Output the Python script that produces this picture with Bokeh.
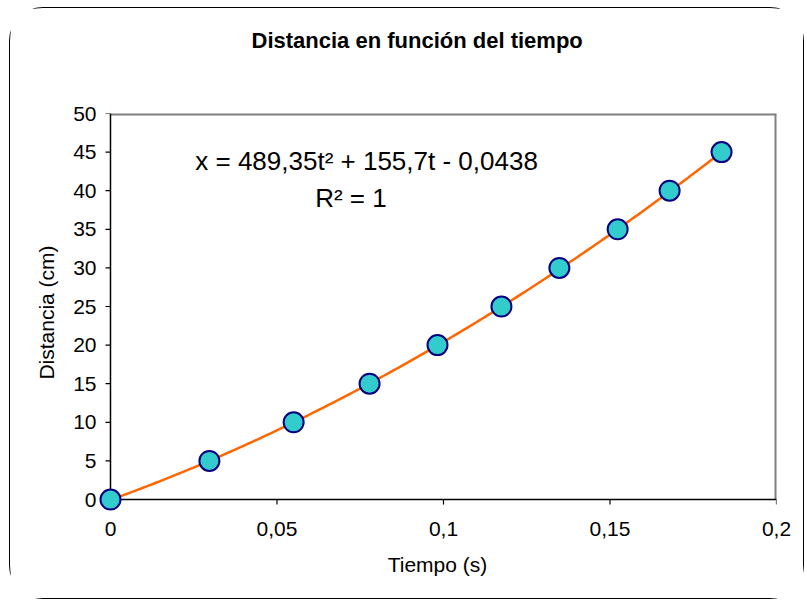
from bokeh.plotting import figure
from bokeh.models import FixedTicker, CustomJSTickFormatter, Label, ColumnDataSource, Title
from bokeh.embed import file_html
from bokeh.resources import INLINE
import numpy as np

# Data
tiempo = [0.0, 0.0297, 0.0550, 0.0778, 0.0982, 0.1174, 0.1348, 0.1523, 0.1679, 0.1835]
distancia = [0, 5, 10, 15, 20, 25, 30, 35, 40, 45]
# Trend-line coefficients (from the equation shown)
coef_a, coef_b, coef_c = 489.35, 155.7, -0.0438
x_ticks = [0, 0.05, 0.1, 0.15, 0.2]
y_ticks = [0, 5, 10, 15, 20, 25, 30, 35, 40, 45, 50]
titulo = "Distancia en función del tiempo"

FONT = "Liberation Sans"
x0, x1 = x_ticks[0], x_ticks[-1]
y0, y1 = y_ticks[0], y_ticks[-1]
xpad, ypad = 0.0036, 1.55      # room so the marker at the origin is not clipped
xtick, ytick = 0.0015, 0.65    # tick mark lengths (about 5 px)

p = figure(width=795, height=592, output_backend="svg", toolbar_location=None, title=None,
           x_range=(x0 - xpad, x1), y_range=(y0 - ypad, y1),
           min_border_left=88, min_border_right=29, min_border_top=105, min_border_bottom=89)
p.styles = {"border": "1.5px solid black", "border-radius": "34px", "box-sizing": "border-box",
            "margin-left": "9px", "margin-top": "7px"}
p.background_fill_color = "white"
p.border_fill_color = "white"
p.grid.visible = False
p.outline_line_color = None

spacer = Title(text=" ", text_font=FONT, text_font_size="22px", standoff=30)
tit = Title(text=titulo, text_font=FONT, text_font_size="22px", text_font_style="bold",
            text_color="black", align="left", offset=153, standoff=8)
p.add_layout(spacer, "above")
p.add_layout(tit, "above")

for ax in (p.xaxis[0], p.yaxis[0]):
    ax.axis_line_color = None
    ax.major_tick_line_color = None
    ax.major_tick_out = 0
    ax.major_tick_in = 0
    ax.minor_tick_line_color = None
    ax.major_label_text_font = FONT
    ax.major_label_text_font_size = "21px"
    ax.major_label_text_color = "black"
    ax.axis_label_text_font = FONT
    ax.axis_label_text_font_size = "21px"
    ax.axis_label_text_font_style = "normal"
    ax.axis_label_text_color = "black"

p.xaxis.ticker = FixedTicker(ticks=x_ticks)
p.yaxis.ticker = FixedTicker(ticks=y_ticks)
p.xaxis.formatter = CustomJSTickFormatter(code="return (Math.round(tick*100)/100).toString().replace('.', ',');")
p.xaxis.axis_label = "Tiempo (s)"
p.yaxis.axis_label = "Distancia (cm)"
p.xaxis.major_label_standoff = 10
p.xaxis.axis_label_standoff = 14
p.yaxis.major_label_standoff = 2
p.yaxis.axis_label_standoff = 12

# grey plot-area border (top and right sides)
p.segment(x0=[x0, x1], y0=[y1, y0], x1=[x1, x1], y1=[y1, y1], line_color="#808080", line_width=4)
# black axis lines at x=0 and y=0
p.segment(x0=[x0, x0], y0=[y0, y0], x1=[x0, x1], y1=[y1, y0], line_color="black", line_width=1.5)
# tick marks (outside)
p.segment(x0=[x0 - xtick] * len(y_ticks), y0=y_ticks, x1=[x0] * len(y_ticks), y1=y_ticks,
          line_color="black", line_width=1.2)
p.segment(x0=x_ticks, y0=[y0 - ytick] * len(x_ticks), x1=x_ticks, y1=[y0] * len(x_ticks),
          line_color="black", line_width=1.2)

# trend line
tt = np.linspace(0, max(tiempo), 200)
xx = coef_a * tt**2 + coef_b * tt + coef_c
p.line(tt, xx, line_color="#FF6600", line_width=2.5)

src = ColumnDataSource(dict(t=tiempo, d=distancia))
p.scatter("t", "d", source=src, size=20, fill_color="#33CCCC", line_color="#000080", line_width=2)

eq = Label(x=0.0769, y=43.8, text="x = 489,35t² + 155,7t - 0,0438",
           text_font=FONT, text_font_size="26px", text_align="center", text_baseline="middle",
           text_color="black")
r2 = Label(x=0.0722, y=39.0, text="R² = 1",
           text_font=FONT, text_font_size="26px", text_align="center", text_baseline="middle",
           text_color="black")
p.add_layout(eq)
p.add_layout(r2)

open("out.html", "w").write(file_html(p, INLINE))
